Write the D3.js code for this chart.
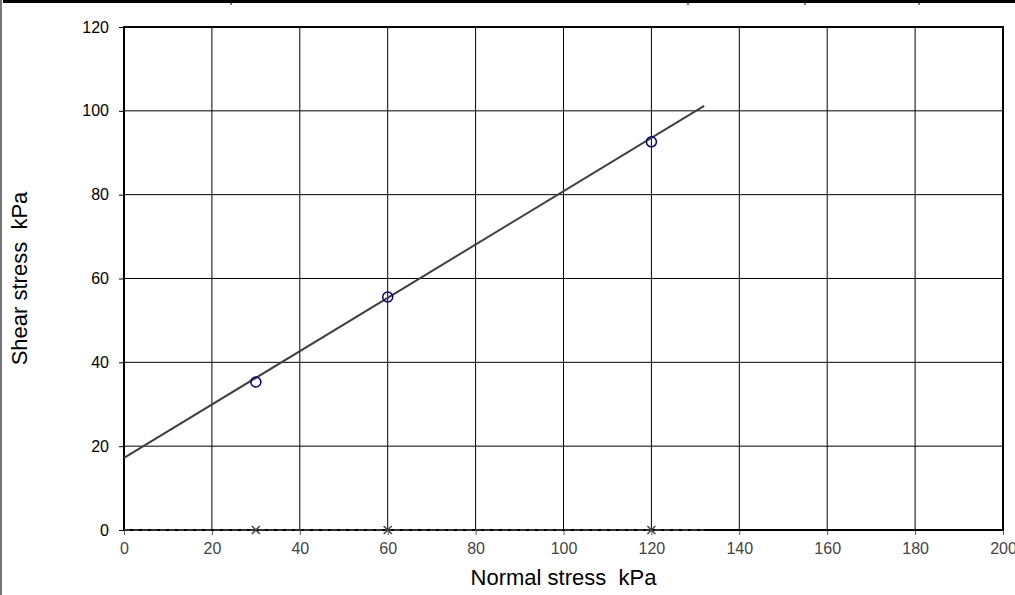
<!DOCTYPE html>
<html>
<head>
<meta charset="utf-8">
<script src="https://cdn.jsdelivr.net/npm/d3@7"></script>
<style>
  body { margin: 0; background: #fff; }
  text { font-family: "Liberation Sans", Arial, sans-serif; }
</style>
</head>
<body>
<script>
// DATA
const normalStress = [30, 60, 120];
const shearStress = [35.3, 55.6, 92.6];
const fitX = [0, 132];
const fitY = [17.2, 101.2];
const zeroX = [0, 132];
const zeroY = [0, 0];
const xTicks = [0, 20, 40, 60, 80, 100, 120, 140, 160, 180, 200];
const yTicks = [0, 20, 40, 60, 80, 100, 120];

// DEFS
const width = 1015;
const height = 595;
const plot = {left: 124, right: 1003, top: 27, bottom: 530};
const tickFont = 16;
const titleFont = 22;

const svg = d3.select('body').append('svg')
    .attr('width', width)
    .attr('height', height);

const x = d3.scaleLinear().domain([0, 200]).range([plot.left, plot.right]);
const y = d3.scaleLinear().domain([0, 120]).range([plot.bottom, plot.top]);

// page decoration (spreadsheet borders)
svg.append('rect').attr('x', 3).attr('y', 0).attr('width', width - 3).attr('height', 3).attr('fill', '#000');
svg.append('rect').attr('x', 0).attr('y', 0).attr('width', 2).attr('height', height).attr('fill', '#777');
[231, 688, 805, 919].forEach(px => {
    svg.append('line').attr('x1', px).attr('x2', px).attr('y1', 0).attr('y2', 5)
        .attr('stroke', '#000').attr('stroke-width', 1);
});

// GRID
const grid = svg.append('g').attr('class', 'grid');
grid.selectAll('.vgrid')
  .data(xTicks.slice(1, -1))
  .enter().append('line')
    .attr('x1', d => x(d)).attr('x2', d => x(d))
    .attr('y1', plot.top).attr('y2', plot.bottom)
    .attr('stroke', '#000').attr('stroke-width', 1);
grid.selectAll('.hgrid')
  .data(yTicks.slice(1, -1))
  .enter().append('line')
    .attr('x1', plot.left).attr('x2', plot.right)
    .attr('y1', d => y(d)).attr('y2', d => y(d))
    .attr('stroke', '#000').attr('stroke-width', 1);

// AXES
const xAxis = svg.append('g')
    .attr('transform', `translate(0, ${plot.bottom})`)
    .call(d3.axisBottom(x).tickValues(xTicks).tickSize(5).tickSizeOuter(0).tickPadding(8))
    .attr('font-size', tickFont)
    .attr('font-family', null);
xAxis.select('.domain').remove();
xAxis.selectAll('line').attr('stroke', '#555');
xAxis.selectAll('text').attr('fill', '#444');

const yAxis = svg.append('g')
    .attr('transform', `translate(${plot.left}, 0)`)
    .call(d3.axisLeft(y).tickValues(yTicks).tickSize(5).tickSizeOuter(0).tickPadding(10))
    .attr('font-size', tickFont)
    .attr('font-family', null);
yAxis.select('.domain').remove();
yAxis.selectAll('line').attr('stroke', '#000');
yAxis.selectAll('text').attr('fill', '#000');

// frame
svg.append('rect')
    .attr('x', plot.left).attr('y', plot.top)
    .attr('width', plot.right - plot.left).attr('height', plot.bottom - plot.top)
    .attr('fill', 'none').attr('stroke', '#000').attr('stroke-width', 2);

// zero series (dashed with crosses)
const line = d3.line().x(d => x(d[0])).y(d => y(d[1]));
svg.append('path')
    .attr('d', line(d3.zip(zeroX, zeroY)))
    .attr('fill', 'none').attr('stroke', '#333').attr('stroke-width', 2)
    .attr('stroke-dasharray', '6,3');

const crossSize = 4;
svg.selectAll('.cross')
  .data(normalStress)
  .enter().append('path')
    .attr('d', d => {
        const cx = x(d), cy = y(0);
        return `M${cx - crossSize},${cy - crossSize}L${cx + crossSize},${cy + crossSize}` +
               `M${cx - crossSize},${cy + crossSize}L${cx + crossSize},${cy - crossSize}`;
    })
    .attr('stroke', '#444').attr('stroke-width', 1.5);

// fit line
svg.append('path')
    .attr('d', line(d3.zip(fitX, fitY)))
    .attr('fill', 'none').attr('stroke', '#404040').attr('stroke-width', 2);

// data points
svg.selectAll('.pt')
  .data(d3.zip(normalStress, shearStress))
  .enter().append('circle')
    .attr('cx', d => x(d[0]))
    .attr('cy', d => y(d[1]))
    .attr('r', 5)
    .attr('fill', 'none').attr('stroke', '#000080').attr('stroke-width', 1.5);

// TITLES
svg.append('text')
    .attr('x', (plot.left + plot.right) / 2)
    .attr('y', 585)
    .attr('text-anchor', 'middle')
    .attr('font-size', titleFont)
    .style('white-space', 'pre')
    .attr('fill', '#000')
    .text('Normal stress  kPa');

svg.append('text')
    .attr('transform', `translate(27, ${(plot.top + plot.bottom) / 2}) rotate(-90)`)
    .attr('text-anchor', 'middle')
    .attr('font-size', titleFont)
    .style('white-space', 'pre')
    .attr('fill', '#000')
    .text('Shear stress  kPa');
</script>
</body>
</html>
